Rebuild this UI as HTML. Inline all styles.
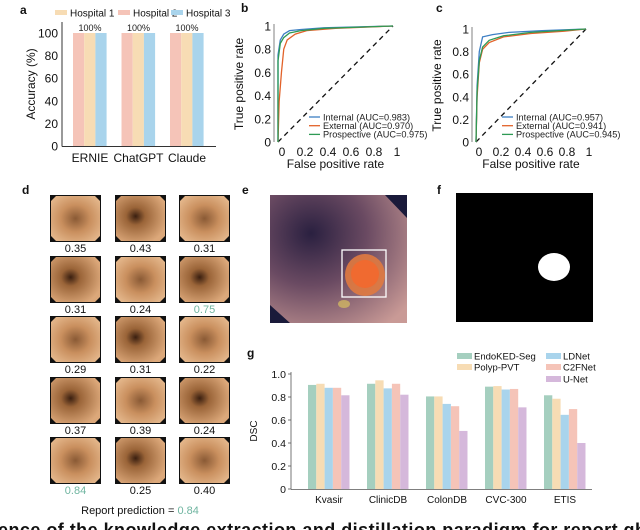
<!DOCTYPE html>
<html><head><meta charset="utf-8"><style>
body{margin:0;background:#fff;}
svg{display:block;font-family:"Liberation Sans",sans-serif;}
</style></head><body>
<svg width="640" height="530" viewBox="0 0 640 530">
<defs>
<radialGradient id="tis" cx="50%" cy="50%" r="60%"><stop offset="0" stop-color="#8a5a35"/><stop offset="0.5" stop-color="#c98f5e"/><stop offset="1" stop-color="#e2b488"/></radialGradient>
<radialGradient id="tis2" cx="40%" cy="45%" r="65%"><stop offset="0" stop-color="#3a1f10"/><stop offset="0.3" stop-color="#9a6438"/><stop offset="1" stop-color="#dca87a"/></radialGradient>
<radialGradient id="tisE" cx="30%" cy="30%" r="90%"><stop offset="0" stop-color="#2a2040"/><stop offset="0.45" stop-color="#6a4a62"/><stop offset="1" stop-color="#c99a96"/></radialGradient>
</defs>
<g font-weight="bold" font-size="12" fill="#111">
<text x="20" y="14">a</text>
<text x="241" y="12">b</text>
<text x="436" y="12">c</text>
<text x="22" y="194">d</text>
<text x="242" y="194">e</text>
<text x="437" y="194">f</text>
<text x="247" y="357">g</text>
</g>
<g id="pa"></g>
<g id="pb"></g>
<g id="pc"></g>
<g id="pd"></g>
<g>
<rect x="270" y="195" width="137" height="128" fill="#1a1a3a"/>
<polygon points="270,195 385,195 407,218 407,323 290,323 270,305" fill="url(#tisE)"/>
<ellipse cx="365" cy="275" rx="20" ry="21" fill="#e07a40" opacity="0.9"/>
<ellipse cx="365" cy="274" rx="14" ry="14" fill="#f06a30"/>
<ellipse cx="344" cy="304" rx="6" ry="4" fill="#d8c060" opacity="0.7"/>
<rect x="342" y="250" width="44" height="47" fill="none" stroke="#fff" stroke-width="1.3"/>
</g>
<g>
<rect x="456" y="193" width="137" height="129" fill="#000"/>
<ellipse cx="554" cy="267" rx="16" ry="14" fill="#fff"/>
</g>
<g id="pg"></g>
<text x="-2" y="536" font-size="18" font-weight="bold" fill="#111" textLength="648">ence of the knowledge extraction and distillation paradigm for report gh</text>
</svg>
<script>
const NS='http://www.w3.org/2000/svg';
function mk(p,t,a,txt){const e=document.createElementNS(NS,t);for(const k in a)e.setAttribute(k,a[k]);if(txt!==undefined)e.textContent=txt;p.appendChild(e);return e;}

// ---- Panel a data ----
const aCats=['ERNIE','ChatGPT','Claude'];
const aHosp2=[100,100,100];
const aHosp1=[100,100,100];
const aHosp3=[100,100,100];
const aTicks=[0,20,40,60,80,100];
// ---- Panel b/c data ----
const bInternal=[[0,0],[0,0.75],[0.02,0.88],[0.05,0.93],[0.1,0.96],[0.2,0.97],[0.4,0.985],[1,1]];
const bExternal=[[0,0],[0.01,0.35],[0.03,0.6],[0.05,0.8],[0.08,0.88],[0.15,0.93],[0.25,0.96],[0.5,0.98],[1,1]];
const bProspective=[[0,0],[0,0.7],[0.02,0.85],[0.05,0.9],[0.1,0.94],[0.2,0.96],[0.4,0.98],[1,1]];
const cInternal=[[0,0],[0.01,0.5],[0.03,0.8],[0.06,0.93],[0.15,0.95],[0.3,0.97],[0.6,0.985],[1,1]];
const cExternal=[[0,0],[0.01,0.4],[0.03,0.7],[0.06,0.82],[0.12,0.88],[0.25,0.93],[0.5,0.96],[0.8,0.98],[1,1]];
const cProspective=[[0,0],[0.01,0.45],[0.03,0.72],[0.06,0.84],[0.12,0.9],[0.25,0.94],[0.5,0.97],[1,1]];
const bLegend=['Internal (AUC=0.983)','External (AUC=0.970)','Prospective (AUC=0.975)'];
const cLegend=['Internal (AUC=0.957)','External (AUC=0.941)','Prospective (AUC=0.945)'];
const rocXTicks=[0,0.2,0.4,0.6,0.8,1];
const rocYTicks=[0,0.2,0.4,0.6,0.8,1];
// ---- Panel d data ----
const dScores=['0.35','0.43','0.31','0.31','0.24','0.75','0.29','0.31','0.22','0.37','0.39','0.24','0.84','0.25','0.40'];
const dHighlight=[5,12];
// ---- Panel g data ----
const gCats=['Kvasir','ClinicDB','ColonDB','CVC-300','ETIS'];
const gEndo=[0.905,0.915,0.805,0.89,0.815];
const gPolyp=[0.915,0.945,0.805,0.895,0.785];
const gLDNet=[0.88,0.875,0.74,0.865,0.645];
const gC2F=[0.88,0.915,0.72,0.87,0.695];
const gUNet=[0.815,0.82,0.505,0.71,0.40];
const gTicks=[0,0.2,0.4,0.6,0.8,1.0];

// Panel a
(function(){
const g=document.getElementById('pa');
const y=v=>146-v*1.13, x0=62;
const cols=['#f5c4b8','#f7dcb4','#a9d4ec'];
const series=[aHosp2,aHosp1,aHosp3];
aCats.forEach((c,i)=>{
 const gx=73+i*48.5;
 series.forEach((s,j)=>{const r=mk(g,'rect',{x:gx+j*11.2,y:y(s[i]),width:11.2,height:146-y(s[i]),fill:cols[j]});
 
 });
 const t=mk(g,'text',{x:gx+17,y:y(100)-2,'font-size':'9','text-anchor':'middle',fill:'#222'},'100%');
 
 
 const l=mk(g,'text',{x:gx+17,y:162,'font-size':'12','text-anchor':'middle',fill:'#111'},c);
 
 
});
mk(g,'line',{x1:x0,y1:22,x2:x0,y2:146.5,stroke:'#333','stroke-width':1});
mk(g,'line',{x1:x0,y1:146.5,x2:216,y2:146.5,stroke:'#333','stroke-width':1});
aTicks.forEach(v=>{const t=mk(g,'text',{x:58,y:y(v)+4.5,'font-size':'12','text-anchor':'end',fill:'#111'},v);
 
 });
const yt=mk(g,'text',{transform:'translate(35,84) rotate(-90)','font-size':'12','text-anchor':'middle',fill:'#111'},'Accuracy (%)');


const leg=[['Hospital 1','#f7dcb4',55],['Hospital 2','#f5c4b8',118],['Hospital 3','#a9d4ec',171]];
leg.forEach(l=>{mk(g,'rect',{x:l[2],y:10,width:12,height:5,fill:l[1]});
 const t=mk(g,'text',{x:l[2]+15,y:16.5,'font-size':'10',fill:'#111'},l[0]);
 
 });
})();

// ROC
function roc(id,X0,X1,Y0,Y1,curves,labels,legX,xt){
const g=document.getElementById(id);
const x=v=>X0+v*(X1-X0), y=v=>Y0-v*(Y0-Y1);
const cols=['#3d7fc4','#e2622a','#2e9a55'];
mk(g,'line',{x1:X0-4,y1:Y1-2,x2:X0-4,y2:Y0,stroke:'#aaa','stroke-width':1.5});
mk(g,'line',{x1:x(0),y1:y(0),x2:x(1),y2:y(1),stroke:'#111','stroke-width':1.3,'stroke-dasharray':'5,4'});
curves.forEach((c,i)=>{const p=mk(g,'polyline',{points:c.map(q=>x(q[0])+','+y(q[1])).join(' '),fill:'none',stroke:cols[i],'stroke-width':1.3});
 
 });
rocYTicks.forEach(v=>{const t=mk(g,'text',{x:X0-7,y:y(v)+4.5,'font-size':'12','text-anchor':'end',fill:'#111'},v);
 
 });
rocXTicks.forEach(v=>{const t=mk(g,'text',{x:x(v)+xt,y:Y0+14,'font-size':'12','text-anchor':'middle',fill:'#111'},v);
 
 });
const xl=mk(g,'text',{x:(X0+X1)/2,y:Y0+26,'font-size':'12','text-anchor':'middle',fill:'#111'},'False positive rate');


const yl=mk(g,'text',{transform:'translate('+(X0-35)+','+((Y0+Y1)/2)+') rotate(-90)','font-size':'12','text-anchor':'middle',fill:'#111'},'True positive rate');


labels.forEach((l,i)=>{const ly=Y0-25+i*8.7;
 mk(g,'line',{x1:legX,y1:ly,x2:legX+11,y2:ly,stroke:cols[i],'stroke-width':1.3});
 const t=mk(g,'text',{x:legX+14,y:ly+3.3,'font-size':'9.2',fill:'#222'},l);
 
 });
}
roc('pb',278,393,142,26,[bInternal,bExternal,bProspective],bLegend,309,4);
roc('pc',476,586,142,29,[cInternal,cExternal,cProspective],cLegend,502,3);

// Panel d
(function(){
const g=document.getElementById('pd');
const cx=[50,115,179], ry=[195,256,316,377,437];
dScores.forEach((s,i)=>{const c=i%3,r=Math.floor(i/3),X=cx[c],Y=ry[r],w=51,h=47,k=6;
 mk(g,'rect',{x:X,y:Y,width:w,height:h,fill:'#111'});
 const p=mk(g,'polygon',{points:[X+k,Y+1,X+w-k,Y+1,X+w-1,Y+k,X+w-1,Y+h-k,X+w-k,Y+h-1,X+k,Y+h-1,X+1,Y+h-k,X+1,Y+k].join(' '),fill:(i%2?'url(#tis2)':'url(#tis)')});
 
 
 const t=mk(g,'text',{x:X+w/2,y:Y+h+10,'font-size':'11','text-anchor':'middle',fill:dHighlight.includes(i)?'#6fb5a0':'#111'},s);
 
 
});
const t=mk(g,'text',{x:140,y:514,'font-size':'11','text-anchor':'middle',fill:'#111'},'Report prediction = ');
const ts=mk(t,'tspan',{fill:'#6fb5a0'},'0.84');


})();

// Panel g
(function(){
const g=document.getElementById('pg');
const y=v=>489-v*115, X0=291;
const cols=['#a5cfbf','#f7dcb4','#a9d4ec','#f5c4b8','#d5b8db'];
const series=[gEndo,gPolyp,gLDNet,gC2F,gUNet];
gCats.forEach((c,i)=>{const gx=308+i*59;
 series.forEach((s,j)=>{const r=mk(g,'rect',{x:gx+j*8.3,y:y(s[i]),width:8.3,height:489-y(s[i]),fill:cols[j]});
 
 });
 const l=mk(g,'text',{x:gx+21,y:503,'font-size':'10','text-anchor':'middle',fill:'#111'},c);
 
 
});
mk(g,'line',{x1:X0,y1:372,x2:X0,y2:489.5,stroke:'#555','stroke-width':0.8});
mk(g,'line',{x1:X0,y1:489.5,x2:592,y2:489.5,stroke:'#555','stroke-width':0.8});
gTicks.forEach(v=>{mk(g,'line',{x1:X0-3,y1:y(v),x2:X0,y2:y(v),stroke:'#555','stroke-width':0.8});
 const t=mk(g,'text',{x:X0-5,y:y(v)+4,'font-size':'10.5','text-anchor':'end',fill:'#111'},v===0?'0':v.toFixed(1));
 
 });
const yl=mk(g,'text',{transform:'translate(257,431) rotate(-90)','font-size':'10','text-anchor':'middle',fill:'#111'},'DSC');


const leg=[['EndoKED-Seg',0,457,356],['Polyp-PVT',1,457,367],['LDNet',2,546,356],['C2FNet',3,546,367],['U-Net',4,546,379]];
leg.forEach(l=>{mk(g,'rect',{x:l[2],y:l[3]-3,width:15,height:6,fill:cols[l[1]]});
 const t=mk(g,'text',{x:l[2]+17,y:l[3]+3.5,'font-size':'9.5',fill:'#111'},l[0]);
 
 });
})();
</script>
</body></html>
